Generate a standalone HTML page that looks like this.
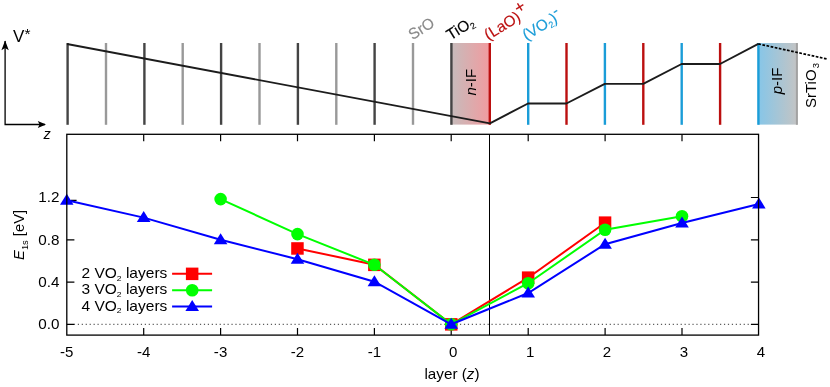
<!DOCTYPE html>
<html><head><meta charset="utf-8"><title>figure</title>
<style>
html,body{margin:0;padding:0;background:#fff;}
svg{display:block;will-change:transform;transform:translateZ(0);font-family:"Liberation Sans",sans-serif;}
</style></head><body>
<svg width="830" height="387" viewBox="0 0 830 387">
<defs>
<linearGradient id="gn" x1="0" x2="1" y1="0" y2="0"><stop offset="0" stop-color="#c6bcbc"/><stop offset="1" stop-color="#f29a9e"/></linearGradient>
<linearGradient id="gp" x1="0" x2="1" y1="0" y2="0"><stop offset="0" stop-color="#86c6e8"/><stop offset="1" stop-color="#c4c4c4"/></linearGradient>
</defs>
<rect width="830" height="387" fill="#fff"/>

<rect x="451" y="43" width="39.5" height="81.6" fill="url(#gn)"/>
<rect x="758" y="43" width="39.5" height="81.6" fill="url(#gp)"/>
<line x1="67.6" y1="43.0" x2="67.6" y2="124.8" stroke="#444" stroke-width="2.4"/>
<line x1="106.0" y1="43.0" x2="106.0" y2="124.8" stroke="#999" stroke-width="2.4"/>
<line x1="144.4" y1="43.0" x2="144.4" y2="124.8" stroke="#444" stroke-width="2.4"/>
<line x1="182.7" y1="43.0" x2="182.7" y2="124.8" stroke="#999" stroke-width="2.4"/>
<line x1="221.1" y1="43.0" x2="221.1" y2="124.8" stroke="#444" stroke-width="2.4"/>
<line x1="259.5" y1="43.0" x2="259.5" y2="124.8" stroke="#999" stroke-width="2.4"/>
<line x1="297.9" y1="43.0" x2="297.9" y2="124.8" stroke="#444" stroke-width="2.4"/>
<line x1="336.3" y1="43.0" x2="336.3" y2="124.8" stroke="#999" stroke-width="2.4"/>
<line x1="374.6" y1="43.0" x2="374.6" y2="124.8" stroke="#444" stroke-width="2.4"/>
<line x1="413.0" y1="43.0" x2="413.0" y2="124.8" stroke="#999" stroke-width="2.4"/>
<line x1="451.4" y1="43.0" x2="451.4" y2="124.8" stroke="#444" stroke-width="2.4"/>
<line x1="489.8" y1="43.0" x2="489.8" y2="124.8" stroke="#bb0f0f" stroke-width="2.4"/>
<line x1="528.2" y1="43.0" x2="528.2" y2="124.8" stroke="#1b9dd8" stroke-width="2.4"/>
<line x1="566.5" y1="43.0" x2="566.5" y2="124.8" stroke="#bb0f0f" stroke-width="2.4"/>
<line x1="604.9" y1="43.0" x2="604.9" y2="124.8" stroke="#1b9dd8" stroke-width="2.4"/>
<line x1="643.3" y1="43.0" x2="643.3" y2="124.8" stroke="#bb0f0f" stroke-width="2.4"/>
<line x1="681.7" y1="43.0" x2="681.7" y2="124.8" stroke="#1b9dd8" stroke-width="2.4"/>
<line x1="720.1" y1="43.0" x2="720.1" y2="124.8" stroke="#bb0f0f" stroke-width="2.4"/>
<line x1="758.4" y1="43.0" x2="758.4" y2="124.8" stroke="#1b9dd8" stroke-width="2.4"/>
<line x1="796.9" y1="43.0" x2="796.9" y2="124.8" stroke="#a2a2a2" stroke-width="2"/>
<polyline fill="none" stroke="#1c1c1c" stroke-width="1.9" stroke-linejoin="round" points="67,44 489.9,123.4 528,103.5 566.4,103.5 604.8,83.9 643.2,83.9 681.6,64 720,64 758.3,43.9"/>
<line x1="758.3" y1="43.9" x2="828" y2="59.2" stroke="#000" stroke-width="1.7" stroke-dasharray="2.7 1.5"/>
<path d="M5.1 41 L5.1 124.5 L45 124.5" fill="none" stroke="#000" stroke-width="1.3"/>
<path d="M5.1 40.5 L8.8 50.2 L5.1 48 L1.4 50.2 Z" fill="#000"/>
<path d="M46 124.5 L37.8 121.1 L39.6 124.5 L37.8 127.9 Z" fill="#000"/>
<text x="13" y="42.4" font-size="17">V</text><text x="24.4" y="39.4" font-size="15.5">*</text>
<text x="43.5" y="138.6" font-size="14.5" font-style="italic">z</text>
<text transform="translate(412.5,40.2) rotate(-32)" font-size="15.4" fill="#8a8a8a" stroke="#8a8a8a" stroke-width="0.15">SrO</text>
<text transform="translate(450.5,40.5) rotate(-32)" font-size="15.4" fill="#000" stroke="#000" stroke-width="0.15">TiO<tspan font-size="9" dy="2.5">2</tspan></text>
<text transform="translate(488.3,40.5) rotate(-32)" font-size="15.4" fill="#bb0f0f" stroke="#bb0f0f" stroke-width="0.15">(LaO)<tspan dy="-6.3" dx="0.3" font-size="17">+</tspan></text>
<text transform="translate(526.5,40.8) rotate(-32)" font-size="15.4" fill="#1b9dd8" stroke="#1b9dd8" stroke-width="0.15">(VO<tspan font-size="9" dy="2.5">2</tspan><tspan font-size="15.4" dy="-2.5">)</tspan><tspan dy="-5.5">-</tspan></text>
<text transform="translate(476,95.5) rotate(-90)" font-size="15"><tspan font-style="italic">n</tspan>-IF</text>
<text transform="translate(781.6,94.3) rotate(-90)" font-size="15"><tspan font-style="italic">p</tspan>-IF</text>
<text transform="translate(816.4,108) rotate(-90)" font-size="15">SrTiO<tspan font-size="9.5" dy="3" dx="1.2">3</tspan></text>
<line x1="74.3" y1="324.3" x2="751.0" y2="324.3" stroke="#000" stroke-width="0.8" stroke-dasharray="1.2 2.74" stroke-dashoffset="-3.5"/>
<line x1="489.5" y1="134.3" x2="489.5" y2="335.1" stroke="#000" stroke-width="1"/>
<path d="M143.7 335.1 v-7 M143.7 134.3 v7" stroke="#000" stroke-width="1.2" fill="none"/>
<path d="M220.6 335.1 v-7 M220.6 134.3 v7" stroke="#000" stroke-width="1.2" fill="none"/>
<path d="M297.5 335.1 v-7 M297.5 134.3 v7" stroke="#000" stroke-width="1.2" fill="none"/>
<path d="M374.4 335.1 v-7 M374.4 134.3 v7" stroke="#000" stroke-width="1.2" fill="none"/>
<path d="M451.2 335.1 v-7 M451.2 134.3 v7" stroke="#000" stroke-width="1.2" fill="none"/>
<path d="M528.2 335.1 v-7 M528.2 134.3 v7" stroke="#000" stroke-width="1.2" fill="none"/>
<path d="M605.1 335.1 v-7 M605.1 134.3 v7" stroke="#000" stroke-width="1.2" fill="none"/>
<path d="M682.0 335.1 v-7 M682.0 134.3 v7" stroke="#000" stroke-width="1.2" fill="none"/>
<path d="M66.8 324.3 h7.6 M758.5 324.3 h-7.6" stroke="#000" stroke-width="1.2" fill="none"/>
<path d="M66.8 282.1 h7.6 M758.5 282.1 h-7.6" stroke="#000" stroke-width="1.2" fill="none"/>
<path d="M66.8 239.8 h7.6 M758.5 239.8 h-7.6" stroke="#000" stroke-width="1.2" fill="none"/>
<path d="M70.9 200.4 H76.6 M758.5 197.5 h-7.6" stroke="#000" stroke-width="1.2" fill="none"/>
<g transform="translate(59.40 329.00) rotate(0) scale(1.0664 1)"><text font-size="14.3" text-anchor="end" fill="#000">0.0</text></g>
<g transform="translate(59.40 286.80) rotate(0) scale(1.0664 1)"><text font-size="14.3" text-anchor="end" fill="#000">0.4</text></g>
<g transform="translate(59.40 244.50) rotate(0) scale(1.0664 1)"><text font-size="14.3" text-anchor="end" fill="#000">0.8</text></g>
<g transform="translate(59.40 202.20) rotate(0) scale(1.0664 1)"><text font-size="14.3" text-anchor="end" fill="#000">1.2</text></g>
<g transform="translate(66.75 356.80) rotate(0) scale(1.0533 1)"><text font-size="14.3" text-anchor="middle" fill="#000">-5</text></g>
<g transform="translate(143.65 356.80) rotate(0) scale(1.0533 1)"><text font-size="14.3" text-anchor="middle" fill="#000">-4</text></g>
<g transform="translate(220.55 356.80) rotate(0) scale(1.0533 1)"><text font-size="14.3" text-anchor="middle" fill="#000">-3</text></g>
<g transform="translate(297.45 356.80) rotate(0) scale(1.0533 1)"><text font-size="14.3" text-anchor="middle" fill="#000">-2</text></g>
<g transform="translate(374.35 356.80) rotate(0) scale(1.0533 1)"><text font-size="14.3" text-anchor="middle" fill="#000">-1</text></g>
<g transform="translate(453.25 356.80) rotate(0) scale(1.0533 1)"><text font-size="14.3" text-anchor="middle" fill="#000">0</text></g>
<g transform="translate(530.15 356.80) rotate(0) scale(1.0533 1)"><text font-size="14.3" text-anchor="middle" fill="#000">1</text></g>
<g transform="translate(607.05 356.80) rotate(0) scale(1.0533 1)"><text font-size="14.3" text-anchor="middle" fill="#000">2</text></g>
<g transform="translate(683.95 356.80) rotate(0) scale(1.0533 1)"><text font-size="14.3" text-anchor="middle" fill="#000">3</text></g>
<g transform="translate(760.85 356.80) rotate(0) scale(1.0533 1)"><text font-size="14.3" text-anchor="middle" fill="#000">4</text></g>
<g transform="translate(452.00 378.60) rotate(0) scale(1.0664 1)"><text font-size="14.3" text-anchor="middle" fill="#000">layer (<tspan font-style="italic">z</tspan>)</text></g>
<g transform="translate(24.00 260.00) rotate(-90) scale(1.0366 1)"><text font-size="14.3" text-anchor="start" fill="#000"><tspan font-style="italic">E</tspan><tspan font-size="9" dy="3.5">1s</tspan><tspan dy="-3.5"> [eV]</tspan></text></g>
<polyline fill="none" stroke="#f00" stroke-width="2" points="297.5,248.4 374.4,264.8 451.2,324.3 528.2,277.7 605.1,222.7"/>
<rect x="291.2" y="242.2" width="12.5" height="12.5" fill="#f00"/>
<rect x="368.1" y="258.6" width="12.5" height="12.5" fill="#f00"/>
<rect x="445.0" y="318.1" width="12.5" height="12.5" fill="#f00"/>
<rect x="521.9" y="271.4" width="12.5" height="12.5" fill="#f00"/>
<rect x="598.8" y="216.4" width="12.5" height="12.5" fill="#f00"/>
<polyline fill="none" stroke="#0f0" stroke-width="2" points="220.6,199.1 297.5,234.1 374.4,264.8 451.2,324.3 528.2,283.2 605.1,229.7 682.0,216.3"/>
<circle cx="220.6" cy="199.1" r="6.3" fill="#0f0"/>
<circle cx="297.5" cy="234.1" r="6.3" fill="#0f0"/>
<circle cx="374.4" cy="264.8" r="6.3" fill="#0f0"/>
<circle cx="451.2" cy="324.3" r="6.3" fill="#0f0"/>
<circle cx="528.2" cy="283.2" r="6.3" fill="#0f0"/>
<circle cx="605.1" cy="229.7" r="6.3" fill="#0f0"/>
<circle cx="682.0" cy="216.3" r="6.3" fill="#0f0"/>
<polyline fill="none" stroke="#00f" stroke-width="2" points="66.8,200.3 143.7,217.6 220.6,239.7 297.5,259.2 374.4,281.7 451.2,324.3 528.2,293.0 605.1,244.2 682.0,223.0 758.9,204.0"/>
<path d="M66.8 193.8 L73.5 204.8 L60.0 204.8 Z" fill="#00f"/>
<path d="M143.7 211.1 L150.5 222.1 L136.8 222.1 Z" fill="#00f"/>
<path d="M220.6 233.2 L227.4 244.2 L213.8 244.2 Z" fill="#00f"/>
<path d="M297.5 252.7 L304.3 263.7 L290.7 263.7 Z" fill="#00f"/>
<path d="M374.4 275.2 L381.2 286.2 L367.6 286.2 Z" fill="#00f"/>
<path d="M451.2 317.8 L458.1 328.8 L444.4 328.8 Z" fill="#00f"/>
<path d="M528.2 286.5 L535.0 297.5 L521.4 297.5 Z" fill="#00f"/>
<path d="M605.1 237.7 L611.9 248.7 L598.3 248.7 Z" fill="#00f"/>
<path d="M682.0 216.5 L688.8 227.5 L675.2 227.5 Z" fill="#00f"/>
<path d="M758.9 197.5 L765.6 208.5 L752.1 208.5 Z" fill="#00f"/>
<rect x="66.80" y="134.30" width="691.75" height="200.80" fill="none" stroke="#000" stroke-width="1.3"/>
<g transform="translate(167.30 277.90) rotate(0) scale(1.1250 1)"><text font-size="13.8" text-anchor="end" fill="#000">2 VO<tspan font-size="7.6" dy="2.6">2</tspan><tspan dy="-2.6"> layers</tspan></text></g>
<line x1="172.1" y1="273.8" x2="212.1" y2="273.8" stroke="#f00" stroke-width="2"/>
<rect x="185.9" y="267.6" width="12.5" height="12.5" fill="#f00"/>
<g transform="translate(167.30 294.30) rotate(0) scale(1.1250 1)"><text font-size="13.8" text-anchor="end" fill="#000">3 VO<tspan font-size="7.6" dy="2.6">2</tspan><tspan dy="-2.6"> layers</tspan></text></g>
<line x1="172.1" y1="290.2" x2="212.1" y2="290.2" stroke="#0f0" stroke-width="2"/>
<circle cx="192.2" cy="290.2" r="6.3" fill="#0f0"/>
<g transform="translate(167.30 310.70) rotate(0) scale(1.1250 1)"><text font-size="13.8" text-anchor="end" fill="#000">4 VO<tspan font-size="7.6" dy="2.6">2</tspan><tspan dy="-2.6"> layers</tspan></text></g>
<line x1="172.1" y1="306.6" x2="212.1" y2="306.6" stroke="#00f" stroke-width="2"/>
<path d="M192.2 300.1 L199.0 311.1 L185.4 311.1 Z" fill="#00f"/>
</svg>
</body></html>
